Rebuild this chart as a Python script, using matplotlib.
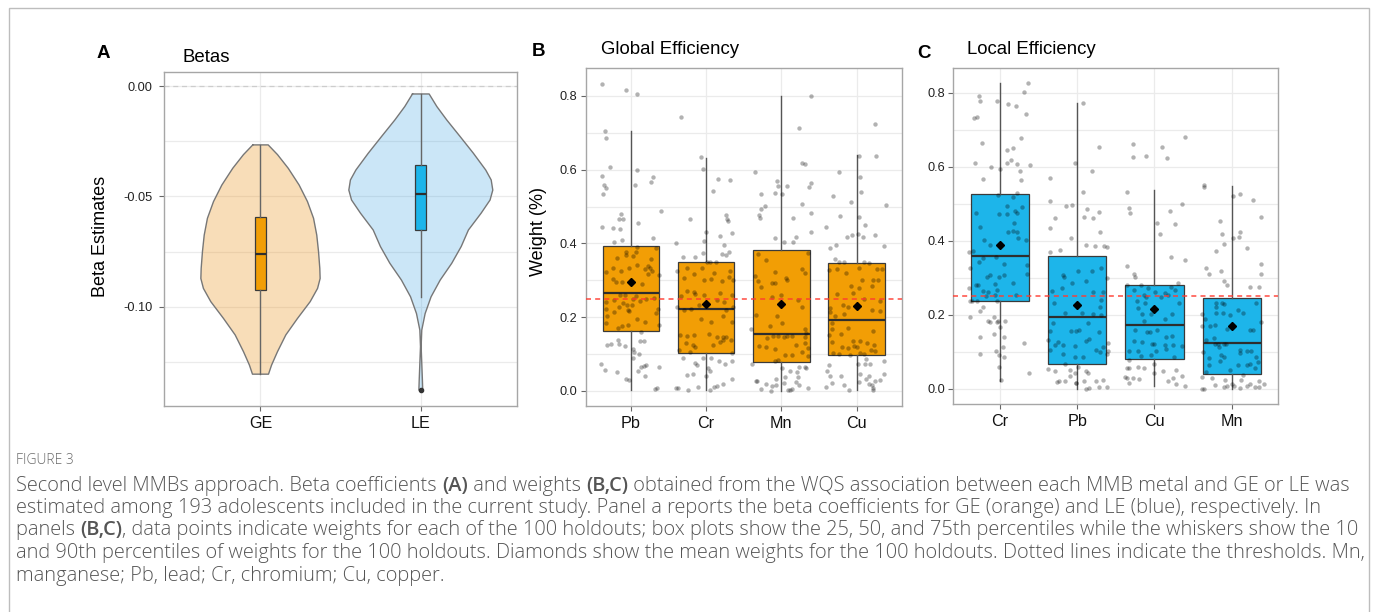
import matplotlib
matplotlib.use("Agg")
import matplotlib.pyplot as plt
from matplotlib.patches import Rectangle

# ---- data ----
beta_groups = ["GE", "LE"]
ge_violin_y = [-0.0266, -0.0310, -0.0372, -0.0448, -0.0523, -0.0599, -0.0675, -0.0750, -0.0826,
               -0.0872, -0.0917, -0.0977, -0.1053, -0.1128, -0.1204, -0.1265, -0.1306]
ge_violin_w = [0.048, 0.106, 0.173, 0.241, 0.293, 0.331, 0.351, 0.362, 0.370,
               0.372, 0.356, 0.310, 0.231, 0.158, 0.106, 0.069, 0.050]
le_violin_y = [-0.0035, -0.0092, -0.0153, -0.0228, -0.0304, -0.0380, -0.0425, -0.0471, -0.0516,
               -0.0576, -0.0652, -0.0727, -0.0803, -0.0879, -0.0955, -0.1031, -0.1106, -0.1181,
               -0.1257, -0.1333, -0.1378]
le_violin_w = [0.052, 0.100, 0.162, 0.245, 0.328, 0.405, 0.439, 0.449, 0.432,
               0.376, 0.297, 0.252, 0.193, 0.121, 0.064, 0.027, 0.006, 0.002,
               0.006, 0.010, 0.012]
beta_q1 = [-0.0926, -0.0650]
beta_med = [-0.0759, -0.0489]
beta_q3 = [-0.0592, -0.0359]
beta_lo = [-0.1306, -0.0955]
beta_hi = [-0.0266, -0.0035]
beta_out = [[], [-0.1378]]

ge_metals = ["Pb", "Cr", "Mn", "Cu"]
ge_q10 = [0.003, 0.003, 0.0, 0.003]
ge_q25 = [0.163, 0.102, 0.078, 0.097]
ge_med = [0.265, 0.223, 0.155, 0.193]
ge_q75 = [0.394, 0.351, 0.381, 0.346]
ge_q90 = [0.706, 0.633, 0.800, 0.640]
ge_mean = [0.296, 0.236, 0.236, 0.230]

le_metals = ["Cr", "Pb", "Cu", "Mn"]
le_q10 = [0.022, 0.0, 0.007, 0.0]
le_q25 = [0.237, 0.067, 0.081, 0.041]
le_med = [0.358, 0.194, 0.171, 0.125]
le_q75 = [0.526, 0.358, 0.281, 0.244]
le_q90 = [0.826, 0.772, 0.536, 0.548]
le_mean = [0.388, 0.225, 0.215, 0.170]

threshold = 0.25

# holdout weights as (jitter, weight)
ge_pb = [(-0.39,0.833),(-0.06,0.815),(0.08,0.805),(-0.35,0.706),(-0.33,0.687),(-0.28,0.607),(0.08,0.598),(-0.38,0.582),(0.06,0.558),(-0.36,0.559),(-0.33,0.551),(-0.37,0.534),(0.30,0.580),(0.27,0.567),(0.40,0.488),(-0.13,0.480),(-0.16,0.467),(-0.10,0.467),(-0.39,0.446),(-0.24,0.442),(0.10,0.456),(-0.14,0.438),(-0.12,0.410),(-0.23,0.403),(0.30,0.414),
         (0.08,0.391),(0.33,0.389),(-0.06,0.378),(0.07,0.376),(-0.07,0.369),(0.03,0.366),(-0.18,0.360),(0.27,0.358),(-0.24,0.334),(-0.13,0.325),(-0.03,0.334),(0.08,0.341),(0.19,0.332),(0.23,0.339),(0.25,0.334),(0.28,0.326),(-0.33,0.324),(0.23,0.316),(0.37,0.315),(-0.24,0.303),(-0.20,0.296),(-0.12,0.296),(0.15,0.289),(-0.14,0.261),(-0.08,0.261),(0.07,0.258),(-0.33,0.240),(-0.23,0.247),(0.03,0.250),(0.12,0.245),(0.20,0.250),(0.31,0.251),(-0.10,0.238),(-0.16,0.229),(-0.05,0.232),(0.01,0.233),(-0.33,0.221),(0.36,0.221),(-0.23,0.215),(-0.04,0.220),(-0.02,0.217),(0.33,0.212),(-0.32,0.202),(-0.33,0.184),(0.08,0.196),(0.19,0.186),(-0.17,0.171),(-0.12,0.176),(-0.04,0.179),(0.38,0.180),
         (0.13,0.159),(-0.17,0.139),(-0.27,0.127),(-0.32,0.124),(-0.16,0.127),(-0.08,0.121),(0.03,0.115),(0.04,0.107),(0.12,0.135),(0.17,0.135),(0.11,0.099),(0.03,0.089),(-0.40,0.072),(-0.35,0.056),(-0.18,0.052),(0.18,0.069),(0.20,0.071),(0.10,0.055),(0.13,0.064),(0.37,0.066),(0.19,0.042),(-0.07,0.033),(-0.02,0.030),(0.32,0.005),(0.35,0.008)]
ge_cr = [(-0.33,0.742),(-0.07,0.634),(-0.04,0.601),(0.16,0.575),(0.32,0.572),(0.09,0.541),(-0.22,0.466),(0.27,0.476),(0.28,0.466),(0.29,0.462),(0.00,0.432),(0.35,0.428),(0.18,0.421),(-0.40,0.400),(-0.03,0.406),(0.24,0.395),(-0.04,0.375),(-0.31,0.364),(-0.15,0.363),(0.21,0.372),(0.31,0.377),(0.26,0.368),
         (0.01,0.350),(0.05,0.351),(0.13,0.351),(-0.25,0.334),(-0.39,0.325),(-0.06,0.333),(0.32,0.325),(-0.16,0.316),(0.11,0.319),(-0.29,0.306),(-0.03,0.301),(0.06,0.304),(0.31,0.308),(0.36,0.300),(0.21,0.297),(-0.25,0.270),(-0.16,0.268),(-0.34,0.258),(-0.15,0.262),(-0.03,0.259),(0.18,0.266),(0.34,0.261),(-0.10,0.234),(0.14,0.247),(0.24,0.240),(-0.39,0.227),(0.36,0.229),(-0.29,0.219),(-0.20,0.221),(0.27,0.220),(0.22,0.202),(-0.07,0.195),(0.06,0.187),(0.35,0.188),(-0.35,0.151),(-0.25,0.150),(-0.16,0.151),(0.04,0.155),(0.14,0.146),(0.22,0.146),(0.27,0.146),(0.33,0.139),(-0.27,0.129),(-0.17,0.125),(-0.15,0.120),(0.09,0.126),(0.19,0.133),(0.22,0.137),(-0.36,0.110),(-0.21,0.105),(0.35,0.104),
         (-0.31,0.090),(-0.04,0.090),(0.07,0.090),(0.17,0.081),(0.25,0.074),(0.35,0.081),(-0.15,0.077),(-0.12,0.071),(0.03,0.061),(0.05,0.054),(0.00,0.042),(-0.25,0.043),(-0.18,0.046),(-0.11,0.011),(-0.40,0.007),(-0.37,0.008),(-0.24,0.004),(0.10,0.011),(0.14,0.013),(0.22,0.018),(0.34,0.033),(0.05,0.003)]
ge_mn = [(0.40,0.800),(0.23,0.714),(0.27,0.617),(0.31,0.615),(-0.35,0.595),(-0.06,0.570),(-0.05,0.555),(0.08,0.556),(-0.08,0.538),(0.01,0.534),(0.40,0.565),(0.37,0.553),(-0.27,0.535),(0.28,0.506),(-0.27,0.493),(-0.22,0.501),(-0.30,0.476),(-0.29,0.470),(0.15,0.469),(0.40,0.483),(-0.08,0.415),(0.04,0.405),(0.19,0.417),(0.16,0.403),(0.39,0.430),
         (-0.31,0.372),(-0.21,0.355),(0.35,0.375),(-0.35,0.313),(-0.09,0.322),(0.28,0.332),(0.32,0.319),(-0.31,0.298),(0.06,0.306),(0.07,0.301),(-0.13,0.292),(-0.08,0.293),(-0.27,0.283),(-0.13,0.255),(0.00,0.260),(0.22,0.247),(0.28,0.227),(-0.34,0.205),(-0.06,0.204),(0.01,0.184),(-0.15,0.175),(0.32,0.168),(-0.40,0.169),(0.33,0.156),(-0.11,0.149),(-0.04,0.149),(0.04,0.146),(0.14,0.149),(0.08,0.148),(-0.19,0.143),(0.32,0.147),(-0.30,0.123),(-0.20,0.120),(-0.08,0.113),(0.19,0.125),(0.31,0.131),(0.35,0.116),(0.28,0.107),(0.05,0.098),(0.14,0.098),(0.36,0.095),(-0.08,0.081),(-0.04,0.084),
         (-0.39,0.074),(0.01,0.063),(0.23,0.064),(0.31,0.064),(0.12,0.053),(0.21,0.052),(0.33,0.061),(0.05,0.038),(-0.33,0.028),(-0.32,0.027),(-0.07,0.032),(0.22,0.037),(0.20,0.024),(-0.21,0.019),(-0.12,0.014),(-0.27,0.005),(-0.14,0.001),(-0.07,0.015),(0.04,0.022),(0.09,0.003),(0.12,0.002),(0.23,0.015),(0.35,0.008),(0.14,0.005)]
ge_cu = [(0.24,0.724),(0.03,0.636),(0.26,0.637),(-0.23,0.593),(0.04,0.579),(0.06,0.540),(-0.31,0.529),(-0.07,0.512),(0.39,0.504),(0.03,0.472),(-0.22,0.474),(0.11,0.449),(-0.40,0.446),(0.02,0.427),(-0.13,0.417),(-0.06,0.424),(0.25,0.424),(0.08,0.417),(-0.35,0.389),(-0.27,0.397),(0.36,0.394),(-0.28,0.358),(-0.24,0.351),(-0.17,0.351),(0.10,0.351),(0.16,0.346),
         (-0.37,0.329),(-0.26,0.332),(-0.14,0.319),(0.03,0.333),(0.27,0.332),(0.34,0.332),(0.07,0.300),(0.22,0.302),(-0.07,0.286),(0.03,0.278),(0.21,0.285),(0.29,0.301),(-0.26,0.264),(-0.05,0.265),(0.10,0.250),(0.31,0.244),(-0.18,0.232),(-0.11,0.229),(-0.35,0.225),(-0.35,0.215),(-0.29,0.204),(-0.17,0.210),(0.20,0.220),(0.31,0.216),(-0.33,0.184),(-0.33,0.167),(-0.37,0.153),(-0.21,0.155),(0.22,0.164),(-0.12,0.170),(-0.33,0.134),(-0.05,0.135),(0.05,0.136),(0.14,0.131),(0.23,0.124),(-0.19,0.118),(-0.11,0.117),(-0.04,0.122),(0.00,0.120),(0.19,0.111),(0.25,0.109),(-0.31,0.104),(-0.24,0.099),(-0.09,0.098),(0.04,0.102),(0.10,0.099),
         (0.12,0.086),(0.18,0.073),(-0.36,0.071),(0.02,0.074),(0.11,0.072),(0.37,0.080),(0.36,0.045),(-0.21,0.042),(-0.39,0.053),(-0.35,0.042),(0.16,0.042),(0.04,0.047),(0.03,0.024),(0.12,0.033),(0.20,0.015),(0.22,0.007),(0.25,0.028),(0.31,0.030),(-0.17,0.016),(-0.32,0.023),(-0.40,0.010),(-0.10,0.003),(0.16,0.018),(0.22,0.003)]

le_cr = [(0.36,0.827),(-0.27,0.790),(-0.25,0.778),(-0.03,0.778),(0.31,0.801),(0.11,0.769),(0.21,0.764),(0.34,0.741),(-0.33,0.732),(-0.30,0.735),(0.28,0.676),(-0.23,0.664),(0.09,0.644),(0.17,0.649),(0.14,0.619),(0.10,0.609),(0.22,0.608),(-0.32,0.611),(-0.11,0.599),(0.00,0.594),(0.26,0.587),(0.39,0.604),(0.28,0.565),(-0.22,0.566),(0.22,0.529),(-0.02,0.523),
         (0.17,0.518),(0.10,0.494),(0.29,0.490),(0.20,0.481),(0.22,0.476),(-0.01,0.472),(0.09,0.471),(-0.31,0.475),(0.19,0.447),(-0.25,0.436),(0.17,0.427),(0.22,0.424),(0.11,0.424),(0.23,0.406),(-0.20,0.402),(0.34,0.402),(-0.12,0.387),(-0.34,0.372),(-0.40,0.369),(-0.21,0.354),(-0.05,0.356),(-0.27,0.343),(0.06,0.338),(0.35,0.334),(-0.38,0.327),(0.35,0.310),(-0.13,0.306),(0.06,0.307),(-0.17,0.301),(-0.01,0.301),(-0.28,0.279),(-0.31,0.279),(-0.06,0.282),(0.17,0.287),(-0.40,0.273),(-0.22,0.265),(-0.03,0.268),(-0.15,0.261),(0.21,0.253),(-0.06,0.253),(-0.18,0.251),(-0.30,0.238),(-0.38,0.237),(-0.36,0.236),(-0.03,0.236),
         (-0.21,0.220),(-0.25,0.209),(-0.39,0.193),(-0.15,0.184),(-0.13,0.180),(-0.02,0.184),(-0.04,0.180),(0.07,0.184),(-0.08,0.194),(0.00,0.166),(-0.07,0.147),(0.05,0.140),(-0.25,0.139),(0.31,0.125),(-0.05,0.101),(0.04,0.112),(-0.25,0.094),(-0.01,0.090),(0.06,0.086),(-0.01,0.059),(0.38,0.042),(0.02,0.023)]
le_pb = [(0.07,0.772),(0.28,0.654),(-0.03,0.610),(0.19,0.589),(-0.35,0.569),(-0.35,0.507),(-0.15,0.494),(-0.07,0.496),(0.13,0.485),(0.07,0.532),(0.28,0.477),(-0.28,0.462),(0.09,0.465),(-0.35,0.435),(0.20,0.460),(0.29,0.423),(-0.08,0.407),(0.11,0.387),(0.23,0.386),(0.35,0.386),(0.39,0.382),(-0.35,0.369),(-0.22,0.376),
         (-0.18,0.306),(-0.17,0.303),(0.01,0.318),(0.19,0.319),(0.31,0.325),(0.39,0.300),(0.12,0.292),(-0.06,0.285),(-0.19,0.271),(-0.32,0.264),(0.20,0.262),(0.33,0.262),(-0.30,0.231),(0.31,0.241),(0.29,0.220),(-0.16,0.206),(0.06,0.204),(0.20,0.201),(0.31,0.200),(-0.31,0.178),(0.14,0.177),(-0.35,0.156),(-0.08,0.155),(-0.01,0.156),(0.03,0.159),(0.28,0.154),(-0.37,0.131),(-0.25,0.127),(-0.18,0.118),(0.12,0.129),(0.16,0.134),(0.40,0.125),(-0.35,0.106),(-0.29,0.117),(-0.03,0.115),(0.24,0.106),(0.33,0.113),(0.40,0.102),(-0.18,0.093),(-0.03,0.086),(0.07,0.086),(0.29,0.099),(0.39,0.094),
         (-0.37,0.053),(-0.29,0.049),(-0.16,0.066),(-0.09,0.052),(-0.03,0.043),(0.01,0.058),(0.12,0.049),(0.14,0.043),(-0.23,0.021),(-0.16,0.022),(-0.26,0.018),(-0.09,0.034),(-0.01,0.016),(0.09,0.022),(0.15,0.003),(0.25,0.022),(0.28,0.005),(0.34,0.023),(0.38,0.005),(-0.02,0.015),(0.12,0.000)]
le_cu = [(0.39,0.681),(-0.28,0.662),(0.10,0.652),(-0.28,0.626),(-0.11,0.629),(0.16,0.623),(-0.36,0.532),(-0.33,0.487),(-0.32,0.475),(0.35,0.499),(0.03,0.447),(0.20,0.481),(0.27,0.444),(0.07,0.418),(0.21,0.356),(0.39,0.349),(-0.35,0.331),(-0.26,0.310),(-0.25,0.301),(0.30,0.287),(0.21,0.274),
         (-0.35,0.279),(-0.17,0.279),(-0.09,0.271),(0.26,0.268),(-0.27,0.266),(0.01,0.261),(0.14,0.259),(-0.14,0.253),(0.18,0.252),(-0.11,0.247),(0.08,0.248),(0.32,0.231),(-0.22,0.237),(-0.12,0.232),(-0.21,0.217),(-0.16,0.202),(-0.05,0.202),(0.23,0.202),(0.14,0.189),(-0.14,0.184),(-0.25,0.160),(-0.06,0.154),(0.03,0.160),(-0.10,0.154),(0.22,0.142),(0.15,0.139),(-0.26,0.129),(-0.16,0.126),(-0.03,0.122),(-0.01,0.122),(0.13,0.118),(0.24,0.117),(0.35,0.116),(-0.33,0.102),(-0.21,0.103),(0.02,0.101),(0.15,0.107),(-0.18,0.088),(-0.04,0.092),(0.25,0.086),
         (-0.33,0.079),(0.00,0.067),(-0.36,0.055),(-0.33,0.055),(-0.21,0.058),(-0.13,0.055),(0.11,0.048),(0.28,0.051),(-0.38,0.033),(-0.35,0.030),(-0.33,0.017),(-0.28,0.028),(-0.20,0.027),(0.00,0.044),(0.18,0.022),(0.24,0.028),(0.28,0.014),(0.35,0.035),(0.40,0.007)]
le_mn = [(-0.36,0.550),(-0.36,0.544),(0.01,0.520),(0.10,0.526),(0.27,0.510),(0.38,0.465),(-0.15,0.452),(-0.13,0.417),(0.02,0.406),(0.09,0.410),(0.10,0.423),(0.20,0.381),(-0.20,0.372),(-0.10,0.392),(-0.34,0.325),(-0.29,0.310),(-0.14,0.319),(-0.10,0.292),(-0.06,0.281),(0.24,0.274),(0.35,0.276),(0.38,0.310),(0.38,0.337),
         (-0.21,0.233),(-0.13,0.232),(-0.20,0.220),(-0.10,0.229),(0.31,0.231),(0.08,0.214),(0.14,0.206),(-0.20,0.204),(-0.12,0.204),(-0.38,0.201),(-0.02,0.200),(-0.35,0.188),(-0.39,0.170),(-0.28,0.170),(-0.22,0.172),(-0.06,0.161),(0.24,0.160),(0.27,0.160),(0.37,0.181),(-0.34,0.133),(-0.23,0.137),(-0.16,0.113),(-0.22,0.122),(-0.18,0.120),(-0.10,0.121),(-0.08,0.120),(0.11,0.105),(0.20,0.102),(0.25,0.101),(0.10,0.097),(-0.37,0.100),(-0.30,0.082),(-0.14,0.092),(-0.10,0.086),(0.31,0.085),(0.34,0.072),(-0.30,0.063),(-0.15,0.076),(0.08,0.065),(0.19,0.064),(0.24,0.067),(0.30,0.055),(-0.33,0.046),(-0.03,0.050),
         (-0.38,0.033),(-0.26,0.028),(-0.09,0.025),(0.14,0.037),(0.12,0.025),(0.24,0.014),(0.35,0.022),(0.41,0.014),(-0.22,0.010),(-0.06,0.008),(0.00,0.014),(0.03,0.008),(0.10,0.002),(0.20,0.007),(-0.10,0.004),(-0.39,0.000),(-0.36,0.000),(0.35,0.005),(0.30,0.004)]

caption_head = "FIGURE 3"
caption_lines = [
    [("Second level MMBs approach. Beta coefficients ", False), ("(A)", True), (" and weights ", False),
     ("(B,C)", True), (" obtained from the WQS association between each MMB metal and GE or LE was", False)],
    [("estimated among 193 adolescents included in the current study. Panel a reports the beta coefficients for GE (orange) and LE (blue), respectively. In", False)],
    [("panels ", False), ("(B,C)", True), (", data points indicate weights for each of the 100 holdouts; box plots show the 25, 50, and 75th percentiles while the whiskers show the 10", False)],
    [("and 90th percentiles of weights for the 100 holdouts. Diamonds show the mean weights for the 100 holdouts. Dotted lines indicate the thresholds. Mn,", False)],
    [("manganese; Pb, lead; Cr, chromium; Cu, copper.", False)],
]

# ---- style ----
ORANGE = "#F29E05"
BLUE = "#1DB5EA"
ORANGE_SOFT = "#EB9116"
BLUE_SOFT = "#339FE3"
GRID = "#EBEBEB"
SPINE = "#A6A6A6"
W, H = 1375, 612

plt.rcParams["font.family"] = ["Liberation Sans", "DejaVu Sans"]

fig = plt.figure(figsize=(W / 100, H / 100), dpi=100)
fig.patch.set_facecolor("white")


def px_axes(left, top, right, bottom):
    return fig.add_axes([left / W, 1 - bottom / H, (right - left) / W, (bottom - top) / H])


def style_axes(ax, major, minor, labels, ylabels, ylim, xlim, ypad):
    ax.set_xlim(*xlim)
    ax.set_ylim(*ylim)
    ax.set_yticks(major)
    ax.set_yticklabels(ylabels)
    ax.set_yticks(minor, minor=True)
    ax.set_xticks(range(1, len(labels) + 1))
    ax.set_xticklabels(labels, fontsize=11.6)
    ax.grid(True, which="both", color=GRID, lw=0.9, zorder=0)
    ax.set_axisbelow(True)
    ax.tick_params(axis="y", which="major", length=3.5, width=0.8, color="#666666",
                   labelsize=9.2, pad=ypad, labelcolor="#222222")
    ax.tick_params(axis="x", which="major", length=3.5, width=0.8, color="#666666",
                   pad=4, labelcolor="#111111")
    ax.tick_params(which="minor", length=0)
    for s in ax.spines.values():
        s.set_color(SPINE)
        s.set_linewidth(1.0)


def weight_panel(ax, groups, q10, q25, med, q75, q90, mean, color):
    stats = []
    for i in range(len(groups)):
        stats.append(dict(whislo=q10[i], q1=q25[i], med=med[i], q3=q75[i], whishi=q90[i],
                          mean=mean[i], fliers=[]))
    ax.bxp(stats, positions=range(1, len(stats) + 1), widths=0.75, patch_artist=True,
           showcaps=False, showmeans=False, showfliers=False,
           boxprops=dict(facecolor=color, edgecolor="#3A3A3A", linewidth=0.9),
           whiskerprops=dict(color="#555555", linewidth=1.0),
           medianprops=dict(color="#2E2E2E", linewidth=1.6), zorder=2)
    for i, pts in enumerate(groups):
        ax.scatter([i + 1 + p[0] for p in pts], [p[1] for p in pts], s=10, color="black",
                   alpha=0.3, linewidths=0, zorder=3)
    ax.axhline(threshold, color="#FF3B30", ls=(0, (3, 2.5)), lw=1.2, alpha=0.85, zorder=4)
    ax.plot(range(1, len(mean) + 1), mean, ls="none", marker="D", ms=4.2, color="black", zorder=5)


# ---- panel A ----
axA = px_axes(164.3, 71.7, 517, 405.7)
for i, (vy, vw, col, a) in enumerate([(ge_violin_y, ge_violin_w, ORANGE_SOFT, 0.3),
                                      (le_violin_y, le_violin_w, BLUE_SOFT, 0.25)]):
    xc = i + 1
    axA.fill_betweenx(vy, [xc - w for w in vw], [xc + w for w in vw], facecolor=col, alpha=a,
                      edgecolor="none", zorder=1)
    axA.plot([xc - w for w in vw] + [xc + w for w in vw[::-1]] + [xc - vw[0]],
             list(vy) + list(vy[::-1]) + [vy[0]], color="#777777", lw=1.0, zorder=2)
beta_stats = [dict(whislo=beta_lo[i], q1=beta_q1[i], med=beta_med[i], q3=beta_q3[i],
                   whishi=beta_hi[i], fliers=beta_out[i]) for i in range(2)]
bpA = axA.bxp(beta_stats, positions=[1, 2], widths=0.07, patch_artist=True, showcaps=False,
              boxprops=dict(edgecolor="#3A3A3A", linewidth=0.9),
              whiskerprops=dict(color="#666666", linewidth=1.0),
              medianprops=dict(color="#2E2E2E", linewidth=1.6),
              flierprops=dict(marker="o", markersize=3, markerfacecolor="#333333",
                              markeredgecolor="#333333"), zorder=3)
for patch, col in zip(bpA["boxes"], [ORANGE, BLUE]):
    patch.set_facecolor(col)
axA.axhline(0, color="#CDCDCD", ls=(0, (4, 3)), lw=0.9, zorder=1)
style_axes(axA, [0, -0.05, -0.10], [-0.025, -0.075, -0.125], beta_groups,
           ["0.00", "-0.05", "-0.10"], (-0.1449, 0.0066), (0.4, 2.6), 5)
axA.set_ylabel("Beta Estimates", fontsize=13)
axA.yaxis.set_label_coords(-0.157, 0.508)

# ---- panel B ----
axB = px_axes(585.7, 68.3, 901.7, 406)
weight_panel(axB, [ge_pb, ge_cr, ge_mn, ge_cu], ge_q10, ge_q25, ge_med, ge_q75, ge_q90, ge_mean, ORANGE)
style_axes(axB, [0, 0.2, 0.4, 0.6, 0.8], [0.1, 0.3, 0.5, 0.7], ge_metals,
           ["0.0", "0.2", "0.4", "0.6", "0.8"], (-0.0407, 0.875), (0.4, 4.6), 2.5)
axB.set_ylabel("Weight (%)", fontsize=13)
axB.yaxis.set_label_coords(-0.122, 0.516)

# ---- panel C ----
axC = px_axes(953.3, 67.7, 1278.3, 404)
weight_panel(axC, [le_cr, le_pb, le_cu, le_mn], le_q10, le_q25, le_med, le_q75, le_q90, le_mean, BLUE)
style_axes(axC, [0, 0.2, 0.4, 0.6, 0.8], [0.1, 0.3, 0.5, 0.7], le_metals,
           ["0.0", "0.2", "0.4", "0.6", "0.8"], (-0.041, 0.867), (0.4, 4.6), 2.5)

# ---- titles and panel letters ----
for letter, lx, ly, title, tx, ty in [("A", 97, 54, "Betas", 183, 57),
                                      ("B", 532, 52, "Global Efficiency", 601, 50),
                                      ("C", 917, 53, "Local Efficiency", 967, 50)]:
    fig.text(lx / W, 1 - ly / H, letter, fontsize=13.5, fontweight="bold", va="center", ha="left")
    fig.text(tx / W, 1 - ty / H, title, fontsize=13.4, va="center", ha="left")

# ---- caption ----
fig.add_artist(Rectangle((9 / W, 1 - 630 / H), (1369 - 9) / W, (630 - 8) / H,
                         transform=fig.transFigure, fill=False, ec="#BDBDBD", lw=1.0))
cap_font = ["Open Sans", "DejaVu Sans"]
fig.text(16 / W, 1 - 461 / H, caption_head, fontsize=10, color="#6B6B6B", family=cap_font,
         fontweight="light", va="center", ha="left")
renderer = fig.canvas.get_renderer()


def text_width(txt, **kw):
    a = fig.text(0, 0, txt + "|", **kw)
    b = fig.text(0, 0, "|", **kw)
    w = a.get_window_extent(renderer).width - b.get_window_extent(renderer).width
    a.remove()
    b.remove()
    return w


for k, parts in enumerate(caption_lines):
    y = 485.5 + k * 22.5
    x = 16
    for txt, bold in parts:
        kw = dict(fontsize=14.4, family=cap_font, color="#555555",
                  fontweight="semibold" if bold else "light")
        fig.text(x / W, 1 - y / H, txt, va="center", ha="left", **kw)
        x += text_width(txt, **kw)

fig.savefig("out.png", dpi=100, facecolor="white")
